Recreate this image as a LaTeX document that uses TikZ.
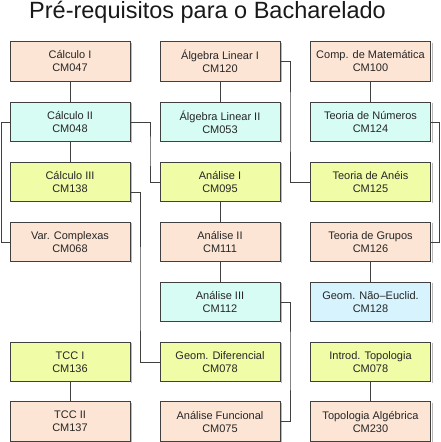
\documentclass[tikz,border=0pt]{standalone}
\usepackage{fontspec}
\setmainfont{Liberation Sans}
\definecolor{cpeach}{RGB}{253,229,213}
\definecolor{ccyan}{RGB}{214,252,244}
\definecolor{cyel}{RGB}{240,252,166}
\definecolor{cblue}{RGB}{214,243,254}
\definecolor{cborder}{RGB}{64,64,64}
\tikzset{
  course/.style={draw=cborder, line width=0.8pt, minimum width=120pt, minimum height=39.5pt,
    inner sep=0pt, align=center, text=black!85,
    font=\fontsize{11}{13}\selectfont},
  peachbox/.style={course, fill=cpeach},
  cyanbox/.style={course, fill=ccyan},
  yelbox/.style={course, fill=cyel},
  bluebox/.style={course, fill=cblue},
  conn/.style={draw=black!75, line width=0.8pt},
  shadowline/.style={draw=gray!55, line width=1pt}
}
\begin{document}
\begin{tikzpicture}[x=1pt,y=1pt]
\useasboundingbox (0,-442) rectangle (441,0);
\node[anchor=base west, font=\fontsize{23.5}{28}\selectfont, text=black!90, inner sep=0pt] (title) at (29,-18) {Pré-requisitos para o Bacharelado};
% column 1
\node[peachbox] (calc1) at (70,-61.5) {Cálculo I\\CM047};
\node[cyanbox] (calc2) at (70,-122) {Cálculo II\\CM048};
\node[yelbox] (calc3) at (70,-182) {Cálculo III\\CM138};
\node[peachbox] (varc) at (70,-242) {Var. Complexas\\CM068};
\node[yelbox] (tcc1) at (70,-362) {TCC I\\CM136};
\node[peachbox] (tcc2) at (70,-421.5) {TCC II\\CM137};
% column 2
\node[peachbox] (alg1) at (220,-61.5) {Álgebra Linear I\\CM120};
\node[cyanbox] (alg2) at (220,-122) {Álgebra Linear II\\CM053};
\node[yelbox] (an1) at (220,-182) {Análise I\\CM095};
\node[peachbox] (an2) at (220,-242) {Análise II\\CM111};
\node[cyanbox] (an3) at (220,-302) {Análise III\\CM112};
\node[yelbox] (geodif) at (220,-362) {Geom. Diferencial\\CM078};
\node[peachbox] (afunc) at (220,-421.5) {Análise Funcional\\CM075};
% column 3
\node[peachbox] (comp) at (370.5,-61.5) {Comp. de Matemática\\CM100};
\node[cyanbox] (num) at (370.5,-122) {Teoria de Números\\CM124};
\node[yelbox] (aneis) at (370.5,-182) {Teoria de Anéis\\CM125};
\node[peachbox] (grupos) at (370.5,-242) {Teoria de Grupos\\CM126};
\node[bluebox] (geone) at (370.5,-302) {Geom. Não–Euclid.\\CM128};
\node[yelbox] (topo) at (370.5,-362) {Introd. Topologia\\CM078};
\node[peachbox] (topalg) at (370.5,-421.5) {Topologia Algébrica\\CM230};
% slight shadow at the right edge of each box
\foreach \n in {calc1,calc2,calc3,varc,tcc1,tcc2,alg1,alg2,an1,an2,an3,geodif,afunc,comp,num,aneis,grupos,geone,topo,topalg}{
  \draw[shadowline] ([xshift=1.1pt,yshift=-1.2pt]\n.north east) -- ([xshift=1.1pt,yshift=-0.4pt]\n.south east);
}
% connectors
\draw[conn] (calc1.south) -- (calc2.north);
\draw[conn] (calc2.south) -- (calc3.north);
\draw[conn] (tcc1.south) -- (tcc2.north);
\draw[conn] (alg1.south) -- (alg2.north);
\draw[conn] (an1.south) -- (an2.north);
\draw[conn] (an2.south) -- (an3.north);
\draw[conn] (comp.south) -- (num.north);
\draw[conn] (grupos.south) -- (geone.north);
\draw[conn] (topo.south) -- (topalg.north);
\draw[conn] (alg1.east) -| (290,-122) |- (aneis.west);
\draw[conn] (calc2.west) -| (1.2,-182) |- (varc.west);
\draw[conn] (calc2.east) -| (150,-150) |- (an1.west);
\coordinate (c3out) at ([yshift=-10pt]calc3.east);
\draw[conn] (c3out) -| (140,-300) |- (geodif.west);
\draw[conn] (an3.east) -| (290,-360) |- (afunc.east);
\draw[conn] (num.east) -| (439.8,-182) |- (grupos.east);
\end{tikzpicture}
\end{document}
